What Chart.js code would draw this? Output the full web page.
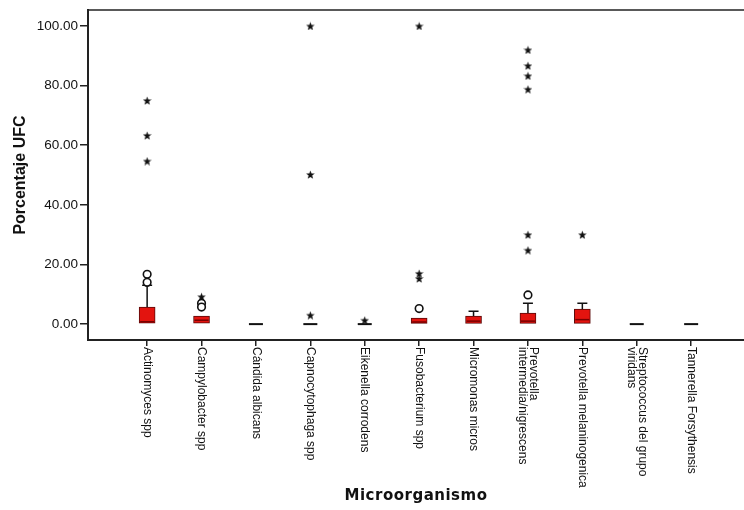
<!DOCTYPE html>
<html>
<head>
<meta charset="utf-8">
<script src="https://cdn.jsdelivr.net/npm/chart.js@4.4.1/dist/chart.umd.min.js"></script>
<style>
  html, body { margin: 0; padding: 0; background: #fff; overflow: hidden; }
  #wrap { width: 751px; height: 510px; position: relative; }
</style>
</head>
<body>
<div id="wrap"><canvas id="chart"></canvas></div>
<script>
/* ── Data ── */
const categories = [
  ['Actinomyces spp'],
  ['Campylobacter spp'],
  ['Cándida albicans'],
  ['Capnocytophaga spp'],
  ['Eikenella corrodens'],
  ['Fusobacterium spp'],
  ['Micromonas micros'],
  ['Prevotella', 'intermedia/nigrescens'],
  ['Prevotella melaninogenica'],
  ['Streptococcus del grupo', 'viridans'],
  ['Tannerella Forsythensis']
];
const q1          = [0.3, 0.3, 0, 0, 0, 0, 0, 0, 0, 0, 0];
const median      = [0.8, 1.3, 0, 0, 0, 0.7, 1.0, 1.0, 1.5, 0, 0];
const q3          = [5.7, 2.7, 0, 0, 0, 2.0, 2.7, 3.7, 5.0, 0, 0];
const whiskerHigh = [13.0, 2.7, 0, 0, 0, 2.0, 4.3, 7.0, 7.0, 0, 0];
// outliers (circles): [category index, value]
const outliers = [[0, 16.7], [0, 14.0], [1, 7.0], [1, 5.7], [5, 5.2], [7, 9.8]];
// extremes (stars)
const extremes = [
  [0, 75.0], [0, 63.3], [0, 54.7],
  [1, 9.2],
  [3, 100.0], [3, 50.2], [3, 3.0],
  [4, 1.3],
  [5, 100.0], [5, 17.0], [5, 15.3],
  [7, 92.0], [7, 86.7], [7, 83.3], [7, 78.8], [7, 30.0], [7, 24.8],
  [8, 30.0]
];
const yTicks = [0, 20, 40, 60, 80, 100];

const FONT = '"Liberation Sans", Arial, sans-serif';

/* ── Star marker ── */
function makeStar(size) {
  const c = document.createElement('canvas');
  c.width = size; c.height = size;
  const g = c.getContext('2d');
  const cx = size / 2, cy = size / 2 + 0.5, R = size / 2, r = R * 0.42;
  g.beginPath();
  for (let k = 0; k < 10; k++) {
    const rad = k % 2 === 0 ? R : r;
    const a = -Math.PI / 2 + k * Math.PI / 5;
    g.lineTo(cx + rad * Math.cos(a), cy + rad * Math.sin(a));
  }
  g.closePath();
  g.fillStyle = '#111';
  g.fill();
  return c;
}

/* ── Whiskers, medians, frame and rotated labels ── */
const boxExtras = {
  id: 'boxExtras',
  afterDatasetDraw(chart, args) {
    if (args.index !== 0) return;
    const { ctx, scales: { x, y } } = chart;
    ctx.save();
    ctx.strokeStyle = '#111';
    categories.forEach((c, i) => {
      const px = x.getPixelForValue(i);
      if (q3[i] > q1[i]) {
        if (whiskerHigh[i] > q3[i]) {
          ctx.lineWidth = 1.5;
          ctx.beginPath();
          ctx.moveTo(px, y.getPixelForValue(q3[i]));
          ctx.lineTo(px, y.getPixelForValue(whiskerHigh[i]));
          ctx.moveTo(px - 5, y.getPixelForValue(whiskerHigh[i]));
          ctx.lineTo(px + 5, y.getPixelForValue(whiskerHigh[i]));
          ctx.stroke();
        }
        ctx.strokeStyle = '#7a0000';
        ctx.lineWidth = 1.5;
        ctx.beginPath();
        ctx.moveTo(px - 7, y.getPixelForValue(median[i]));
        ctx.lineTo(px + 7, y.getPixelForValue(median[i]));
        ctx.stroke();
        ctx.strokeStyle = '#111';
      } else {
        ctx.lineWidth = 2;
        ctx.beginPath();
        ctx.moveTo(px - 7, y.getPixelForValue(median[i]));
        ctx.lineTo(px + 7, y.getPixelForValue(median[i]));
        ctx.stroke();
      }
    });
    ctx.restore();
  },
  afterDraw(chart) {
    const { ctx, chartArea, scales: { x } } = chart;
    ctx.save();
    ctx.strokeStyle = '#222';
    ctx.lineWidth = 1.5;
    ctx.beginPath();
    ctx.moveTo(chartArea.left, chartArea.top);
    ctx.lineTo(chartArea.right, chartArea.top);
    ctx.stroke();

    ctx.fillStyle = '#111';
    ctx.font = '12px ' + FONT;
    ctx.textAlign = 'left';
    ctx.textBaseline = 'middle';
    const lh = 11;
    categories.forEach((lines, i) => {
      const px = x.getPixelForValue(i);
      ctx.save();
      ctx.translate(px, chartArea.bottom + 7);
      ctx.rotate(Math.PI / 2);
      lines.forEach((t, k) => {
        ctx.fillText(t, 0, (k - (lines.length - 1) / 2) * lh);
      });
      ctx.restore();
    });

    // x-axis title, spaced like the SPSS output
    ctx.font = 'bold 15px "DejaVu Sans", ' + FONT;
    ctx.textAlign = 'center';
    ctx.textBaseline = 'middle';
    if ('letterSpacing' in ctx) ctx.letterSpacing = '0.5px';
    ctx.fillText('Microorganismo', (chartArea.left + 744) / 2, 496);
    ctx.restore();
  }
};

const star = makeStar(9);

new Chart(document.getElementById('chart'), {
  type: 'bar',
  data: {
    datasets: [
      {
        label: 'IQR',
        order: 3,
        data: categories.map((c, i) => ({ x: i, y: [q1[i], q3[i]] })).filter((d, i) => q3[i] > q1[i]),
        backgroundColor: '#e3140f',
        borderColor: '#5a0a0a',
        borderWidth: 1,
        borderSkipped: false,
        barThickness: 16
      },
      {
        type: 'scatter',
        label: 'Atípicos',
        order: 2,
        data: outliers.map(([i, v]) => ({ x: i, y: v })),
        pointStyle: 'circle',
        pointRadius: 3.8,
        pointBackgroundColor: '#fff',
        pointBorderColor: '#111',
        pointBorderWidth: 1.6
      },
      {
        type: 'scatter',
        label: 'Extremos',
        order: 1,
        data: extremes.map(([i, v]) => ({ x: i, y: v })),
        pointStyle: star,
        pointRadius: 5
      }
    ]
  },
  options: {
    responsive: true,
    maintainAspectRatio: false,
    animation: false,
    layout: { padding: { top: 8, right: 0, left: 0, bottom: 0 } },
    plugins: { legend: { display: false }, tooltip: { enabled: false } },
    scales: {
      x: {
        type: 'linear',
        offset: false,
        min: -1.087,
        max: 10.99,
        afterBuildTicks: s => { s.ticks = categories.map((c, i) => ({ value: i })); },
        afterFit: s => { s.height = 170; },
        grid: { display: true, offset: false, drawOnChartArea: false, drawTicks: true, tickLength: 6, color: '#222', lineWidth: 1.5 },
        border: { display: true, color: '#222', width: 2 },
        ticks: { display: false }
      },
      y: {
        min: -5.33,
        max: 105.33,
        afterBuildTicks: s => { s.ticks = yTicks.map(v => ({ value: v })); },
        afterFit: s => { s.width = 88; },
        grid: { display: true, drawOnChartArea: false, drawTicks: true, tickLength: 8, color: '#222', lineWidth: 1.5 },
        border: { display: true, color: '#222', width: 2 },
        ticks: {
          color: '#111',
          padding: 2,
          font: { family: FONT, size: 13.5 },
          callback: v => v.toFixed(2)
        },
        title: {
          display: true,
          text: 'Porcentaje UFC',
          color: '#111',
          font: { family: FONT, size: 16, weight: 'bold' },
          padding: { top: 11, bottom: 0 }
        }
      }
    }
  },
  plugins: [boxExtras]
});
</script>
</body>
</html>
